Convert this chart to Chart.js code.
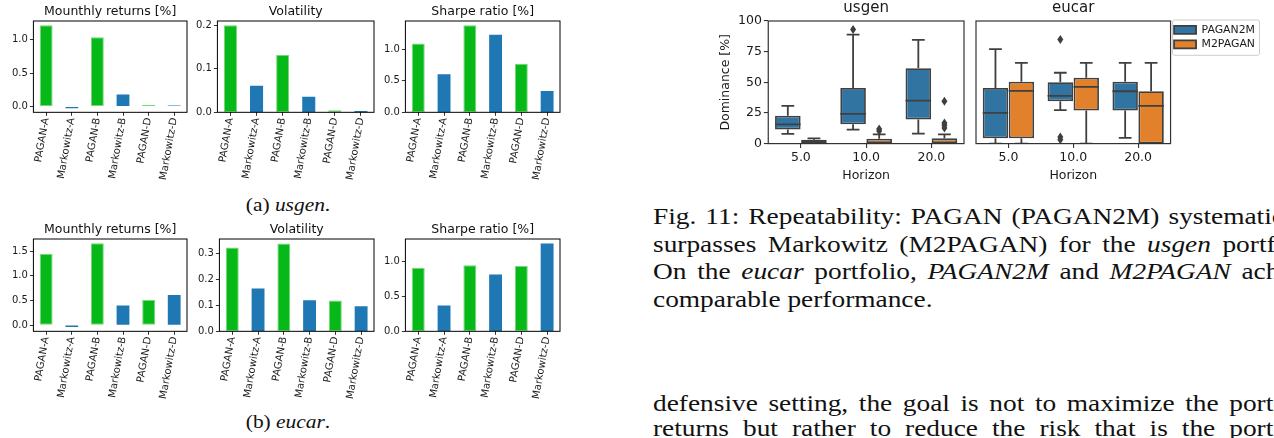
<!DOCTYPE html>
<html><head><meta charset="utf-8">
<script src="https://cdn.jsdelivr.net/npm/chart.js@4.4.1/dist/chart.umd.min.js"></script>
<style>
html,body{margin:0;padding:0;background:#fff;overflow:hidden;}
body{width:1274px;height:438px;position:relative;}
canvas{position:absolute;left:0;top:0;}
.serif{font-family:"Liberation Serif","Times New Roman",serif;color:#111;position:absolute;white-space:nowrap;}
.cap{left:653px;transform-origin:0 0;transform:scaleX(1.2);font-size:22.8px;line-height:22.8px;}
.just{width:560px;text-align:justify;text-align-last:justify;}
.sub{width:200px;left:188px;text-align:center;font-size:18px;line-height:18px;transform:scaleX(1.19);transform-origin:50% 0;}
</style></head><body>
<canvas id="a1" width="200" height="200"></canvas>
<canvas id="a2" width="200" height="200"></canvas>
<canvas id="a3" width="200" height="200"></canvas>
<canvas id="b1" width="200" height="200"></canvas>
<canvas id="b2" width="200" height="200"></canvas>
<canvas id="b3" width="200" height="200"></canvas>
<canvas id="bx1" width="260" height="200"></canvas>
<canvas id="bx2" width="330" height="200"></canvas>

<div class="serif sub" style="top:196px">(a) <i>usgen</i>.</div>
<div class="serif sub" style="top:413px">(b) <i>eucar</i>.</div>

<div class="serif cap just" style="top:206px">Fig. 11: Repeatability: PAGAN (PAGAN2M) systematically</div>
<div class="serif cap just" style="top:234px">surpasses Markowitz (M2PAGAN) for the <i>usgen</i> portfolio.</div>
<div class="serif cap just" style="top:261px">On the <i>eucar</i> portfolio, <i>PAGAN2M</i> and <i>M2PAGAN</i> achieve</div>
<div class="serif cap" style="top:289px">comparable performance.</div>
<div class="serif cap just" style="top:393px">defensive setting, the goal is not to maximize the portfolio</div>
<div class="serif cap just" style="top:418px">returns but rather to reduce the risk that is the portfolio</div>

<script>
// ---------- data: bar charts ----------
const categories = ['PAGAN-A','Markowitz-A','PAGAN-B','Markowitz-B','PAGAN-D','Markowitz-D'];
const usgenReturns    = [1.22, -0.025, 1.04, 0.18, 0.025, 0.015];
const usgenVolatility = [0.200, 0.061, 0.132, 0.036, 0.005, 0.003];
const usgenSharpe     = [1.09, 0.605, 1.38, 1.23, 0.77, 0.34];
const eucarReturns    = [1.44, -0.04, 1.66, 0.40, 0.51, 0.61];
const eucarVolatility = [0.322, 0.165, 0.338, 0.119, 0.118, 0.096];
const eucarSharpe     = [0.91, 0.37, 0.943, 0.814, 0.933, 1.257];
const returnsTicksA = [0, 0.5, 1.0];
const volTicksA     = [0, 0.1, 0.2];
const sharpeTicksA  = [0, 0.5, 1.0];
const returnsTicksB = [0, 0.5, 1.0, 1.5];
const volTicksB     = [0, 0.1, 0.2, 0.3];
const sharpeTicksB  = [0, 0.5, 1.0];
const barTitles = ['Mounthly returns [%]', 'Volatility', 'Sharpe ratio [%]'];

// ---------- data: box plots ----------
const horizons = ['5.0', '10.0', '20.0'];
const seriesNames = ['PAGAN2M', 'M2PAGAN'];
const dominanceTicks = [0, 25, 50, 75, 100];
const usgenP2M_lo  = [8, 11.4, 8.1];
const usgenP2M_q1  = [11.4, 15.7, 19.7];
const usgenP2M_med = [15.7, 24.3, 35.1];
const usgenP2M_q3  = [22.7, 45.4, 61.4];
const usgenP2M_hi  = [30.8, 88.9, 84.6];
const usgenP2M_out = [[], [93], []];
const usgenM2P_lo  = [0, 0, 0];
const usgenM2P_q1  = [0, 0, 0];
const usgenM2P_med = [0, 0, 0];
const usgenM2P_q3  = [3.2, 4, 4.3];
const usgenM2P_hi  = [4.3, 7.6, 7.6];
const usgenM2P_out = [[], [11.9, 10.2], [34.6, 16.8, 14.9, 12.7]];
const eucarP2M_lo  = [0, 27.3, 4.6];
const eucarP2M_q1  = [4.3, 34.6, 27];
const eucarP2M_med = [25.1, 38.9, 42.7];
const eucarP2M_q3  = [45.4, 50, 50.5];
const eucarP2M_hi  = [77, 57.8, 65.9];
const eucarP2M_out = [[], [84.9, 5.4, 3.2], []];
const eucarM2P_lo  = [0, 0, 0];
const eucarM2P_q1  = [4.3, 27, 0];
const eucarM2P_med = [43, 46.2, 30.8];
const eucarM2P_q3  = [50.5, 53.8, 42.7];
const eucarM2P_hi  = [65.9, 65.9, 65.9];
const eucarM2P_out = [[], [], []];

// ---------- style ----------
const SANS = '"DejaVu Sans", sans-serif';
Chart.defaults.font.family = SANS;
const GREEN = '#06b818', GREEN_EDGE = '#74d874', BLUE = '#1f77b4';
const BOXCOL = ['#3274a1', '#e1812c'];
const LINE = '#3f3f3f';

const frame = {
  id: 'frame',
  afterDraw(c, args, o) {
    const a = c.chartArea, ctx = c.ctx;
    ctx.save();
    ctx.strokeStyle = o.color || '#000';
    ctx.lineWidth = o.width || 1;
    ctx.strokeRect(a.left, a.top, a.right - a.left, a.bottom - a.top);
    ctx.restore();
  }
};

function place(chart, box) {
  for (let k = 0; k < 3; k++) {
    const ca = chart.chartArea;
    const w = Math.round(chart.width + (box.w - (ca.right - ca.left)));
    const h = Math.round(chart.height + (box.h - (ca.bottom - ca.top)));
    chart.resize(w, h);
  }
  const ca = chart.chartArea;
  chart.canvas.style.left = (box.x - ca.left) + 'px';
  chart.canvas.style.top = (box.y - ca.top) + 'px';
}

function yRange(vals) {
  const lo = Math.min(0, ...vals), hi = Math.max(0, ...vals), span = hi - lo;
  return { min: lo < 0 ? lo - 0.05 * span : 0, max: hi + 0.05 * span };
}

function makeBar(id, vals, ticks, title, box) {
  const r = yRange(vals);
  const isP = categories.map(c => c.startsWith('PAGAN'));
  const chart = new Chart(document.getElementById(id), {
    type: 'bar',
    data: { labels: categories, datasets: [{
      data: vals,
      backgroundColor: isP.map(p => p ? GREEN : BLUE),
      borderColor: isP.map(p => p ? GREEN_EDGE : BLUE),
      borderWidth: isP.map(p => p ? 1 : 0),
      borderSkipped: false,
      barPercentage: 0.5, categoryPercentage: 1
    }]},
    options: {
      responsive: false, maintainAspectRatio: false, animation: false, devicePixelRatio: 1,
      layout: { padding: { left: 2, right: 6, top: 0, bottom: 0 } },
      plugins: {
        legend: { display: false }, tooltip: { enabled: false },
        title: { display: true, fullSize: false, text: title, color: '#111', font: { family: SANS, size: 12.5, weight: 'normal' }, padding: { top: 1, bottom: 2 } },
        frame: { color: '#000', width: 1 }
      },
      scales: {
        x: {
          offset: true,
          grid: { display: true, offset: false, drawOnChartArea: false, drawTicks: true, tickLength: 3.5, color: '#000', lineWidth: 0.8 },
          border: { display: false },
          ticks: { autoSkip: false, minRotation: 80, maxRotation: 80, padding: 1, color: '#1a1a1a', font: { family: SANS, size: 10.2 } }
        },
        y: {
          min: r.min, max: r.max,
          afterBuildTicks: s => { s.ticks = ticks.map(v => ({ value: v })); },
          grid: { display: true, drawOnChartArea: false, drawTicks: true, tickLength: 3.5, color: '#000', lineWidth: 0.8 },
          border: { display: false },
          ticks: { padding: 2, color: '#1a1a1a', font: { family: SANS, size: 10 }, callback: v => Number(v).toFixed(1) }
        }
      }
    },
    plugins: [frame]
  });
  place(chart, box);
}

makeBar('a1', usgenReturns, returnsTicksA, barTitles[0], { x: 33, y: 21, w: 154, h: 91 });
makeBar('a2', usgenVolatility, volTicksA, barTitles[1], { x: 217, y: 21, w: 157, h: 91 });
makeBar('a3', usgenSharpe, sharpeTicksA, barTitles[2], { x: 405, y: 21, w: 155, h: 91 });
makeBar('b1', eucarReturns, returnsTicksB, barTitles[0], { x: 33, y: 239, w: 154, h: 92 });
makeBar('b2', eucarVolatility, volTicksB, barTitles[1], { x: 219, y: 239, w: 155, h: 92 });
makeBar('b3', eucarSharpe, sharpeTicksB, barTitles[2], { x: 405, y: 239, w: 155, h: 92 });

// ---------- box plots ----------
function boxPlugin(stats) {
  return {
    id: 'boxExtras',
    afterDatasetsDraw(c) {
      const ctx = c.ctx, ys = c.scales.y, a = c.chartArea;
      const Y = v => ys.getPixelForValue(v);
      ctx.save();
      ctx.beginPath(); ctx.rect(a.left, a.top - 10, a.right - a.left, a.bottom - a.top + 10); ctx.clip();
      ctx.strokeStyle = LINE; ctx.fillStyle = LINE; ctx.lineWidth = 1.8;
      const line = (x1, y1, x2, y2) => { ctx.beginPath(); ctx.moveTo(x1, y1); ctx.lineTo(x2, y2); ctx.stroke(); };
      stats.forEach((s, k) => {
        const meta = c.getDatasetMeta(k);
        meta.data.forEach((el, i) => {
          const x = el.x, w = el.width;
          line(x, Y(s.q3[i]), x, Y(s.hi[i]));
          line(x, Y(s.q1[i]), x, Y(s.lo[i]));
          line(x - w / 4, Y(s.hi[i]), x + w / 4, Y(s.hi[i]));
          line(x - w / 4, Y(s.lo[i]), x + w / 4, Y(s.lo[i]));
          line(x - w / 2, Y(s.med[i]), x + w / 2, Y(s.med[i]));
          s.out[i].forEach(v => {
            const py = Y(v);
            ctx.beginPath();
            ctx.moveTo(x, py - 4.5); ctx.lineTo(x + 3, py); ctx.lineTo(x, py + 4.5); ctx.lineTo(x - 3, py);
            ctx.closePath(); ctx.fill();
          });
        });
      });
      ctx.restore();
    }
  };
}

const legendFrame = {
  id: 'legendFrame',
  afterDraw(c) {
    const lg = c.legend;
    if (!lg || !lg.legendHitBoxes || !lg.legendHitBoxes.length || !c.options.plugins.legend.display) return;
    const hb = lg.legendHitBoxes;
    const l = Math.min(...hb.map(h => h.left)) - 2;
    const r = Math.max(...hb.map(h => h.left + h.width)) + 4;
    const t = Math.min(...hb.map(h => h.top)) - 5;
    const b = Math.max(...hb.map(h => h.top + h.height)) + 5;
    const ctx = c.ctx;
    ctx.save();
    ctx.strokeStyle = '#cccccc'; ctx.lineWidth = 1;
    ctx.beginPath();
    if (ctx.roundRect) ctx.roundRect(l + 0.5, t + 0.5, r - l, b - t, 2); else ctx.rect(l + 0.5, t + 0.5, r - l, b - t);
    ctx.stroke();
    ctx.restore();
  }
};

function makeBox(id, title, stats, box, showY, showLegend) {
  const chart = new Chart(document.getElementById(id), {
    type: 'bar',
    data: { labels: horizons, datasets: stats.map((s, k) => ({
      label: seriesNames[k],
      data: s.q1.map((v, i) => [v, s.q3[i]]),
      backgroundColor: BOXCOL[k], borderColor: LINE, borderWidth: 1.8, borderSkipped: false,
      categoryPercentage: 0.8, barPercentage: 0.98
    })) },
    options: {
      responsive: false, maintainAspectRatio: false, animation: false, devicePixelRatio: 1,
      layout: { padding: { left: 2, right: 12, top: 0, bottom: 0 } },
      plugins: {
        legend: { display: showLegend, position: 'right', align: 'start', fullSize: false,
          labels: { boxWidth: 22, boxHeight: 8, padding: 3.5, color: '#1a1a1a', font: { family: SANS, size: 10.9 } } },
        tooltip: { enabled: false },
        title: { display: true, fullSize: false, text: title, color: '#1a1a1a', font: { family: SANS, size: 15, weight: 'normal' }, padding: { top: 0, bottom: 4 } },
        frame: { color: '#333', width: 1.2 }
      },
      scales: {
        x: {
          offset: true,
          grid: { display: true, offset: false, drawOnChartArea: false, drawTicks: true, tickLength: 4.4, color: '#333', lineWidth: 1.1 },
          border: { display: false },
          ticks: { maxRotation: 0, padding: 2, color: '#1a1a1a', font: { family: SANS, size: 12.5 } },
          title: { display: true, text: 'Horizon', color: '#1a1a1a', font: { family: SANS, size: 12.5 }, padding: { top: 1, bottom: 0 } }
        },
        y: {
          display: showY, min: 0, max: 100,
          afterBuildTicks: s => { s.ticks = dominanceTicks.map(v => ({ value: v })); },
          grid: { display: true, drawOnChartArea: false, drawTicks: true, tickLength: 4.4, color: '#333', lineWidth: 1.1 },
          border: { display: false },
          ticks: { padding: 2, color: '#1a1a1a', font: { family: SANS, size: 12.5 }, callback: v => String(v) },
          title: { display: true, text: 'Dominance [%]', color: '#1a1a1a', font: { family: SANS, size: 12.5 }, padding: { top: 0, bottom: 3 } }
        }
      }
    },
    plugins: [frame, boxPlugin(stats), legendFrame]
  });
  place(chart, box);
}

const usgenStats = [
  { lo: usgenP2M_lo, q1: usgenP2M_q1, med: usgenP2M_med, q3: usgenP2M_q3, hi: usgenP2M_hi, out: usgenP2M_out },
  { lo: usgenM2P_lo, q1: usgenM2P_q1, med: usgenM2P_med, q3: usgenM2P_q3, hi: usgenM2P_hi, out: usgenM2P_out }
];
const eucarStats = [
  { lo: eucarP2M_lo, q1: eucarP2M_q1, med: eucarP2M_med, q3: eucarP2M_q3, hi: eucarP2M_hi, out: eucarP2M_out },
  { lo: eucarM2P_lo, q1: eucarM2P_q1, med: eucarM2P_med, q3: eucarM2P_q3, hi: eucarM2P_hi, out: eucarM2P_out }
];
makeBox('bx1', 'usgen', usgenStats, { x: 768, y: 21, w: 196, h: 123 }, true, false);
makeBox('bx2', 'eucar', eucarStats, { x: 976, y: 21, w: 195, h: 123 }, false, true);
</script>
</body></html>
